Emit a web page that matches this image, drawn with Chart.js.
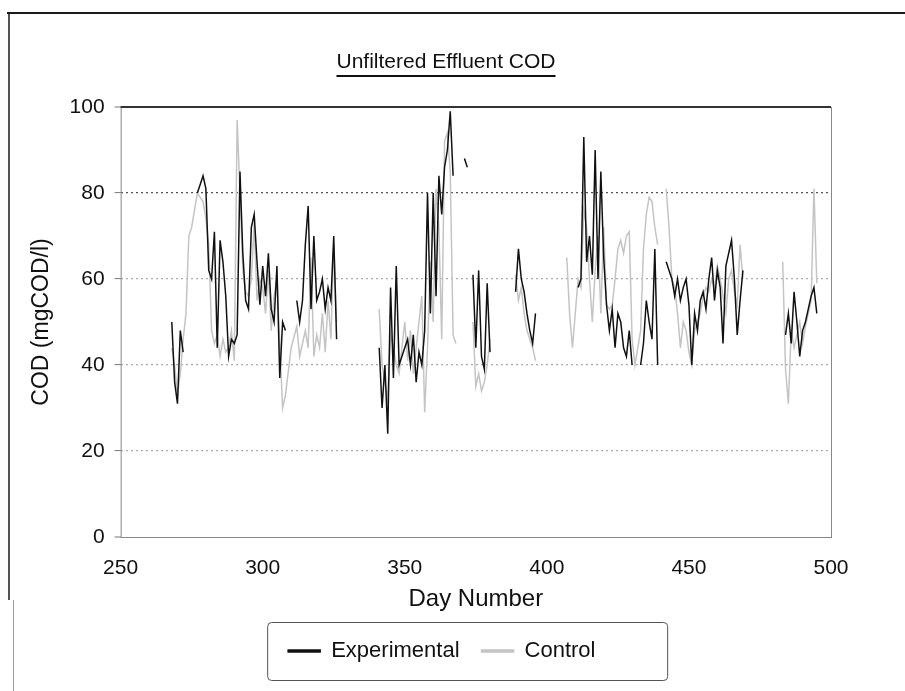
<!DOCTYPE html>
<html>
<head>
<meta charset="utf-8">
<script src="https://cdn.jsdelivr.net/npm/chart.js@4"></script>
<style>
  body { margin: 0; background: #fff; }
  #wrap { width: 905px; height: 691px; }
</style>
</head>
<body>
<div id="wrap"><canvas id="codChart" width="905" height="691"></canvas></div>
<script>
// Day numbers (null rows break the lines where no samples were taken)
const days = [
  268, 269, 270, 271, 272, 273, 274, 275, 276, 277, 278, 279, 280, 281, 282, 283, 284, 285, 286, 287,
  288, 289, 290, 291, 292, 293, 294, 295, 296, 297, 298, 299, 300, 301, 302, 303, 304, 305, 306, 307,
  308, 310, 312, 313, 314, 315, 316, 317, 318, 319, 320, 321, 322, 323, 324, 325, 326, 333,
  341, 342, 343, 344, 345, 346, 347, 348, 350, 351, 352, 353, 354, 355, 356, 357, 358, 359, 360, 361,
  362, 363, 364, 365, 366, 367, 368, 370, 371, 372, 373, 374, 375, 376, 377, 378, 379, 380, 385,
  389, 390, 391, 392, 393, 394, 395, 396, 400, 407, 408, 409, 411, 412, 413, 414, 415, 416, 417, 418,
  419, 420, 421, 422, 423, 424, 425, 426, 427, 428, 429, 430, 431, 433, 434, 435, 436, 437, 438, 439,
  440, 442, 443, 444, 445, 446, 447, 448, 449, 450, 451, 452, 453, 454, 455, 456, 457, 458, 459, 460,
  461, 462, 463, 464, 465, 466, 467, 468, 469, 475, 483, 484, 485, 486, 487, 488, 489, 490, 491, 492,
  493, 494, 495
];

const experimental = [
  50, 36, 31, 48, 43, null, null, null, null, 80, 82, 84, 81, 62, 60, 71, 44, 69, 64, 56,
  42, 46, 45, 47, 85, 66, 55, 53, 72, 75, 64, 54, 63, 56, 66, 53, 50, 63, 37, 50,
  48, null, 55, 50, 55, 68, 77, 53, 70, 55, 57, 60, 53, 58, 55, 70, 46, null,
  44, 30, 40, 24, 58, 37, 63, 40, 44, 46, 40, 47, 36, 43, 40, 48, 80, 52, 80, 56,
  84, 75, 86, 90, 99, 84, null, null, 88, 86, null, 61, 44, 62, 42, 39, 59, 43, null,
  57, 67, 60, 57, 52, 48, 45, 52, null, null, null, null, 58, 60, 93, 64, 70, 61, 90, 60,
  85, 65, 54, 48, 53, 44, 52, 50, 44, 42, 48, 40, null, 40, 45, 55, 50, 46, 67, 40,
  null, 64, 62, 60, 56, 60, 55, 58, 60, 54, 40, 52, 48, 55, 57, 53, 60, 65, 55, 62,
  58, 45, 63, 66, 69, 60, 47, 55, 62, null, null, 47, 52, 45, 57, 50, 42, 48, 50, 53,
  56, 58, 52
];

const control = [
  44, 40, 33, 38, 46, 52, 70, 72, 76, 80, 79, 78, 74, 68, 48, 45, 47, 42, 46, 43,
  44, 48, 41, 97, 80, 62, 57, 56, 60, 73, 55, 60, 58, 52, 62, 48, 56, 60, 45, 30,
  33, 44, 49, 42, 45, 48, 44, 65, 42, 47, 44, 52, 43, 55, 46, 68, 50, null,
  53, 40, 36, 32, 47, 44, 40, 38, 50, 41, 48, 38, 44, 50, 56, 29, 44, 64, 50, 81,
  72, 46, 92, 94, 85, 47, 45, null, null, null, null, 50, 35, 38, 34, 36, 40, 46, null,
  61, 55, 58, 52, 48, 46, 44, 41, null, 65, 52, 44, 60, 58, 76, 72, 60, 50, 62, 70,
  52, 72, 54, 53, 54, 60, 67, 69, 66, 70, 71, 46, 40, 48, 67, 75, 79, 78, 72, 68,
  null, 81, 72, 60, 58, 52, 44, 50, 48, 43, 40, 48, 50, 52, 56, 58, 57, 60, 58, 63,
  60, 56, 52, 60, 62, 57, 54, 68, 60, null, 64, 39, 31, 48, 44, 47, 50, 45, 49, 52,
  55, 81, 59
];

const seriesNames = ['Experimental', 'Control'];
const yTicks = [0, 20, 40, 60, 80, 100];
const xTicks = [250, 300, 350, 400, 450, 500];

const FONT = "'Liberation Sans', Arial, sans-serif";

// page frame, title with underline, plot frame, legend box
const pagePlugin = {
  id: 'page',
  afterLayout(chart) {
    // legend sits a little left of the plot centre in the original
    chart.legend.left -= 34;
    chart.legend.right -= 34;
  },
  beforeDraw(chart) {
    const ctx = chart.ctx;
    ctx.save();
    ctx.fillStyle = '#fff';
    ctx.fillRect(0, 0, chart.width, chart.height);
    ctx.strokeStyle = '#1a1a1a';
    ctx.lineWidth = 2;
    ctx.beginPath(); ctx.moveTo(7, 13); ctx.lineTo(chart.width, 13); ctx.stroke();
    ctx.lineWidth = 1.5;
    ctx.beginPath(); ctx.moveTo(9, 12); ctx.lineTo(9, 600); ctx.stroke();
    ctx.strokeStyle = '#999';
    ctx.lineWidth = 1;
    ctx.beginPath(); ctx.moveTo(13.5, 600); ctx.lineTo(13.5, chart.height); ctx.stroke();

    // title
    const title = 'Unfiltered Effluent COD';
    ctx.font = '21px ' + FONT;
    ctx.fillStyle = '#111';
    ctx.textAlign = 'center';
    ctx.textBaseline = 'middle';
    ctx.fillText(title, 446, 62);
    const w = ctx.measureText(title).width;
    ctx.strokeStyle = '#111';
    ctx.lineWidth = 2;
    ctx.beginPath(); ctx.moveTo(446 - w / 2, 76); ctx.lineTo(446 + w / 2, 76); ctx.stroke();
    ctx.restore();
  },
  afterDraw(chart) {
    const ctx = chart.ctx;
    const a = chart.chartArea;
    ctx.save();
    ctx.strokeStyle = '#888';
    ctx.lineWidth = 1;
    ctx.strokeRect(a.left + 0.5, a.top + 0.5, a.right - a.left, a.bottom - a.top);
    ctx.strokeStyle = '#333';
    ctx.lineWidth = 2;
    ctx.beginPath(); ctx.moveTo(a.left, a.top); ctx.lineTo(a.right, a.top); ctx.stroke();

    // box round the legend
    const boxes = chart.legend.legendHitBoxes;
    if (boxes && boxes.length) {
      const left = Math.min(...boxes.map(b => b.left)) - 21;
      const mid = boxes[0].top + boxes[0].height / 2;
      ctx.strokeStyle = '#555';
      ctx.lineWidth = 1;
      ctx.beginPath();
      ctx.roundRect(left + 0.5, mid - 29 + 0.5, 400, 58, 4);
      ctx.stroke();
    }
    ctx.restore();
  }
};

new Chart(document.getElementById('codChart').getContext('2d'), {
  type: 'line',
  data: {
    datasets: [
      {
        label: seriesNames[0],
        data: days.map((d, i) => ({ x: d, y: experimental[i] })),
        borderColor: '#111',
        backgroundColor: '#111',
        borderWidth: 1.5,
        pointRadius: 0,
        order: 1
      },
      {
        label: seriesNames[1],
        data: days.map((d, i) => ({ x: d, y: control[i] })),
        borderColor: '#c4c4c4',
        backgroundColor: '#c4c4c4',
        borderWidth: 1.5,
        pointRadius: 0,
        order: 2
      }
    ]
  },
  options: {
    responsive: false,
    animation: false,
    devicePixelRatio: 1,
    spanGaps: false,
    layout: { padding: { top: 107, left: 10, right: 74, bottom: 19 } },
    scales: {
      x: {
        type: 'linear',
        min: 250,
        max: 500,
        afterBuildTicks: (axis) => { axis.ticks = xTicks.map(v => ({ value: v })); },
        grid: { display: false, drawTicks: false },
        border: { display: false },
        ticks: { color: '#111', font: { family: FONT, size: 21 }, padding: 19 },
        title: {
          display: true,
          text: 'Day Number',
          color: '#111',
          font: { family: FONT, size: 24 },
          padding: { top: -15, bottom: 4 }
        }
      },
      y: {
        min: 0,
        max: 100,
        afterBuildTicks: (axis) => { axis.ticks = yTicks.map(v => ({ value: v })); },
        grid: {
          color: (c) => (c.tick && c.tick.value === 80 ? '#555' : '#aaa'),
          lineWidth: (c) => (c.tick && (c.tick.value === 0 || c.tick.value === 100) ? 0 : 1.2),
          tickLength: 6,
          tickColor: '#777',
          tickWidth: 1,
          tickBorderDash: []
        },
        border: { display: false, dash: [2, 3] },
        ticks: { color: '#111', font: { family: FONT, size: 21 }, padding: 10 },
        title: {
          display: true,
          text: 'COD (mgCOD/l)',
          color: '#111',
          font: { family: FONT, size: 23 },
          padding: { top: 18, bottom: 4 }
        }
      }
    },
    plugins: {
      title: { display: false },
      tooltip: { enabled: false },
      legend: {
        position: 'bottom',
        fullSize: false,
        labels: {
          color: '#111',
          font: { family: FONT, size: 22 },
          boxWidth: 32,
          boxHeight: 2,
          padding: 22
        }
      }
    }
  },
  plugins: [pagePlugin]
});
</script>
</body>
</html>
